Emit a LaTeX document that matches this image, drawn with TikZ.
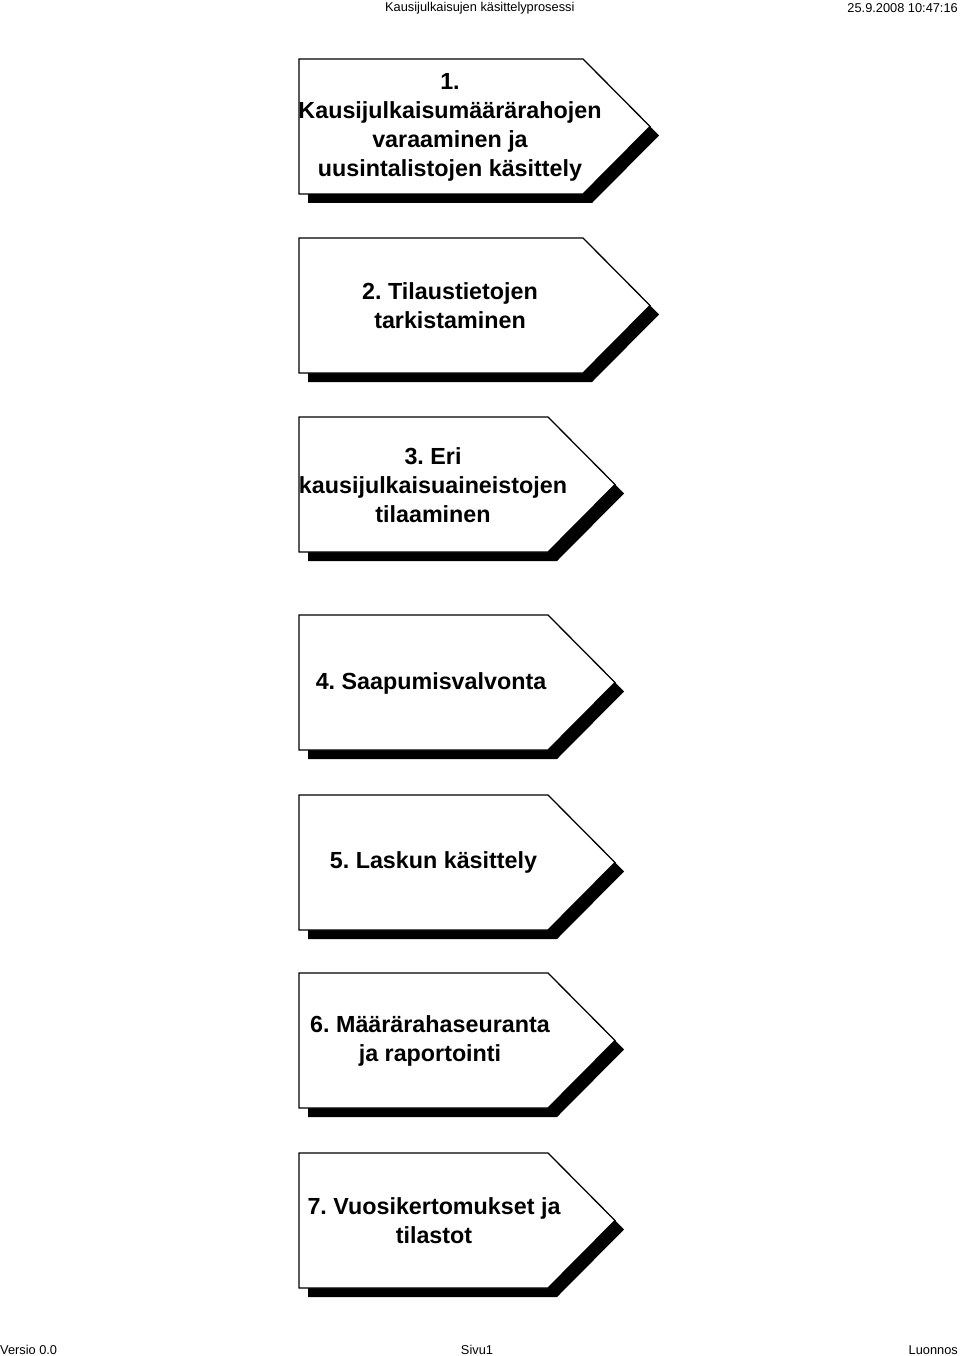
\documentclass[tikz,border=0pt]{standalone}
\usepackage{fontspec}
\setmainfont{Liberation Sans}
\usetikzlibrary{shadows}

\tikzset{
  laatikko/.style={draw, fill=white, line width=1.3pt, line join=miter,
    drop shadow={shadow xshift=9pt, shadow yshift=-9pt, fill=black, opacity=1}},
  teksti/.style={align=center, inner sep=0pt,
    font=\fontsize{23.3}{29}\selectfont\bfseries},
  otsake/.style={font=\fontsize{12.8}{15}\selectfont, inner sep=0pt}
}

\begin{document}
\frenchspacing
\begin{tikzpicture}[x=1pt, y=-1pt]
  \useasboundingbox (0,0) rectangle (960,1356);

  % ylä- ja alatunniste
  \node [otsake, anchor=west] (otsikko) at (385,8.5) {Kausijulkaisujen käsittelyprosessi};
  \node [otsake, anchor=east] (aika) at (958,8.5) {25.9.2008 10:47:16};
  \node [otsake, anchor=west] (versio) at (0,1350) {Versio 0.0};
  \node [otsake] (sivu) at (477,1350) {Sivu1};
  \node [otsake, anchor=east] (tila) at (958,1350) {Luonnos};

  % prosessin vaiheet
  \path [laatikko] (299,59) -- ++(284,0) -- ++(67,67.5) -- ++(-67,67.5) -- ++(-284,0) -- cycle;
  \node [teksti] (v1) at (450,127) {1.\\Kausijulkaisumäärärahojen\\varaaminen ja\\uusintalistojen käsittely};

  \path [laatikko] (299,238) -- ++(284,0) -- ++(67,67.5) -- ++(-67,67.5) -- ++(-284,0) -- cycle;
  \node [teksti] (v2) at (450,305.5) {2. Tilaustietojen\\tarkistaminen};

  \path [laatikko] (299,417) -- ++(249,0) -- ++(67,67.5) -- ++(-67,67.5) -- ++(-249,0) -- cycle;
  \node [teksti] (v3) at (433,485) {3. Eri\\kausijulkaisuaineistojen\\tilaaminen};

  \path [laatikko] (299,615) -- ++(249,0) -- ++(67,67.5) -- ++(-67,67.5) -- ++(-249,0) -- cycle;
  \node [teksti] (v4) at (431,683) {4. Saapumisvalvonta};

  \path [laatikko] (299,795) -- ++(249,0) -- ++(67,67.5) -- ++(-67,67.5) -- ++(-249,0) -- cycle;
  \node [teksti] (v5) at (433.5,862.5) {5. Laskun käsittely};

  \path [laatikko] (299,973) -- ++(249,0) -- ++(67,67.5) -- ++(-67,67.5) -- ++(-249,0) -- cycle;
  \node [teksti] (v6) at (430,1041) {6. Määrärahaseuranta\\ja raportointi};

  \path [laatikko] (299,1153) -- ++(249,0) -- ++(67,67.5) -- ++(-67,67.5) -- ++(-249,0) -- cycle;
  \node [teksti] (v7) at (434,1220.5) {7. Vuosikertomukset ja\\tilastot};

\end{tikzpicture}
\end{document}
